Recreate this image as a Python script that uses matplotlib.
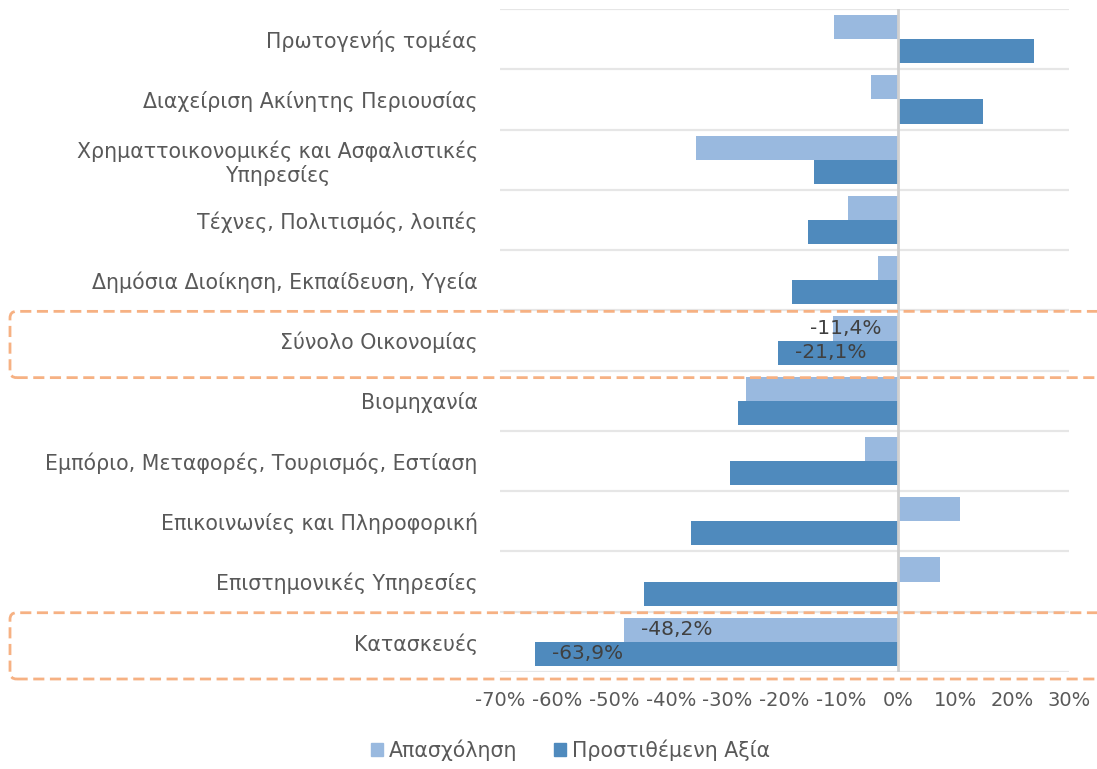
import matplotlib
matplotlib.use("Agg")
import matplotlib.pyplot as plt
import numpy as np
from matplotlib.patches import FancyBboxPatch, Patch

categories = [
    "Πρωτογενής τομέας",
    "Διαχείριση Ακίνητης Περιουσίας",
    "Χρηματτοικονομικές και Ασφαλιστικές\nΥπηρεσίες",
    "Τέχνες, Πολιτισμός, λοιπές",
    "Δημόσια Διοίκηση, Εκπαίδευση, Υγεία",
    "Σύνολο Οικονομίας",
    "Βιομηχανία",
    "Εμπόριο, Μεταφορές, Τουρισμός, Εστίαση",
    "Επικοινωνίες και Πληροφορική",
    "Επιστημονικές Υπηρεσίες",
    "Κατασκευές",
]
employment = [-11.3, -4.8, -35.6, -8.9, -3.5, -11.4, -26.7, -5.8, 10.8, 7.3, -48.2]
value_added = [23.9, 14.9, -14.9, -15.9, -18.6, -21.1, -28.1, -29.6, -36.5, -44.7, -63.9]
series_names = ["Απασχόληση", "Προστιθέμενη Αξία"]
highlighted = ["Σύνολο Οικονομίας", "Κατασκευές"]
xticks = [-70, -60, -50, -40, -30, -20, -10, 0, 10, 20, 30]

LIGHT = "#99B9DF"
DARK = "#4F8ABD"
TXT = "#595959"
ORANGE = "#F6B183"

plt.rcParams["font.family"] = ["DejaVu Sans"]

W, H = 1097, 769
fig = plt.figure(figsize=(W / 100, H / 100), dpi=100)
L, R, T, B = 500 / W, 1069 / W, 1 - 9 / H, 1 - 672 / H
ax = fig.add_axes([L, B, R - L, T - B])

n = len(categories)
y = np.arange(n)
bh = 0.4
ax.barh(y - bh / 2, employment, height=bh, color=LIGHT, label=series_names[0], zorder=2)
ax.barh(y + bh / 2, value_added, height=bh, color=DARK, label=series_names[1], zorder=2)

ax.set_ylim(n - 0.5, -0.5)
ax.set_xlim(-70, 30)
ax.set_xticks(xticks)
ax.set_xticklabels([f"{v}%" for v in xticks], color=TXT, fontsize=14)
ax.set_yticks(y)
ax.set_yticklabels(categories, color=TXT, fontsize=14.8, ha="right", multialignment="center")
ax.tick_params(axis="both", length=0)
ax.tick_params(axis="y", pad=16)
ax.tick_params(axis="x", pad=14)
for s in ax.spines.values():
    s.set_visible(False)

# category separators
for b in np.arange(-0.5, n, 1.0):
    ax.axhline(b, color="#E6E6E6", lw=1.6, zorder=1)
ax.axvline(0, color="#D0D0D0", lw=2, zorder=3)

# data labels for highlighted categories
def fmt(v):
    return f"{v:.1f}%".replace(".", ",")

for cat in highlighted:
    i = categories.index(cat)
    for v, off in ((employment[i], -bh / 2), (value_added[i], bh / 2)):
        width_est = 12.0
        if v + 3 + width_est <= -2.9:
            ax.text(v + 3, i + off, fmt(v), ha="left", va="center", fontsize=14.5,
                    color="#404040", zorder=4)
        else:
            ax.text(-2.9, i + off, fmt(v), ha="right", va="center", fontsize=14.5,
                    color="#404040", zorder=4)

# orange dashed boxes around highlighted categories
hcat = (T - B) / n
for cat in highlighted:
    i = categories.index(cat)
    top = T - i * hcat - 1 / H
    bot = T - (i + 1) * hcat - 7 / H
    x0 = 10 / W
    box = FancyBboxPatch((x0, bot), 1.2 - x0, top - bot,
                         boxstyle="round,pad=0,rounding_size=0.006",
                         mutation_aspect=W / H,
                         transform=fig.transFigure, fill=False,
                         edgecolor=ORANGE, lw=2, linestyle=(0, (4, 2)), zorder=5)
    fig.add_artist(box)

handles = [Patch(color=LIGHT), Patch(color=DARK)]
fig.legend(handles, series_names, loc="center", bbox_to_anchor=(0.52, 0.025),
           ncol=2, frameon=False, fontsize=14.8, handlelength=0.6, handleheight=0.6,
           handletextpad=0.25, columnspacing=1.8, labelcolor=TXT)

fig.savefig("out.png", dpi=100)
